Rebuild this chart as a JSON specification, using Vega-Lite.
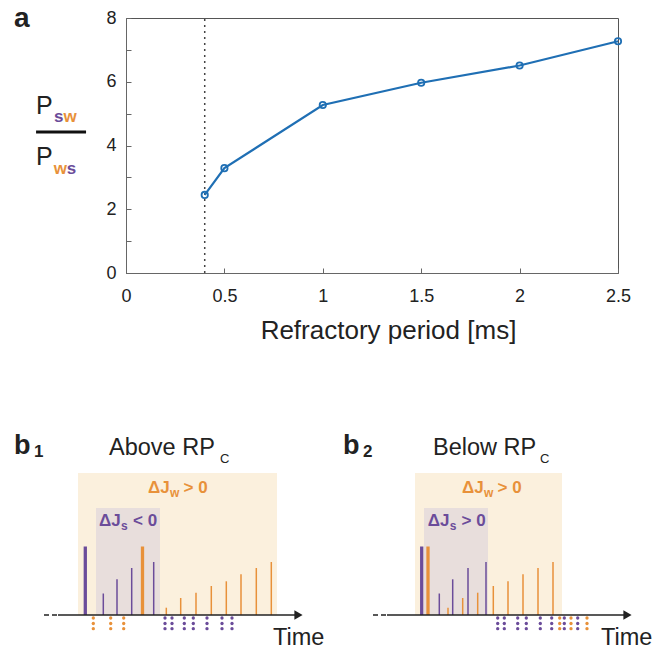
{
  "$schema": "https://vega.github.io/schema/vega-lite/v6.json",
  "padding": {"left": 13, "top": 4, "right": 0, "bottom": 0},
  "columns": 1,
  "bounds": "full",
  "spacing": 86,
  "config": {
    "view": {"stroke": null},
    "font": "Liberation Sans",
    "axis": {"labelFont": "Liberation Sans", "titleFont": "Liberation Sans"}
  },
  "datasets": {
    "curve": [
      {"rp": 0.4, "ratio": 2.45},
      {"rp": 0.5, "ratio": 3.29},
      {"rp": 1.0, "ratio": 5.27},
      {"rp": 1.5, "ratio": 5.97},
      {"rp": 2.0, "ratio": 6.51},
      {"rp": 2.5, "ratio": 7.27}
    ],
    "critical": [{"rp": 0.4, "ratio": 0, "ratio2": 8}],
    "panelA_text": [
      {"role": "tag", "label": "a", "rp": -0.569, "ratio": 7.72},
      {"role": "P", "label": "P", "rp": -0.457, "ratio": 4.99},
      {"role": "P", "label": "P", "rp": -0.457, "ratio": 3.39},
      {"role": "sub", "who": "s", "label": "s", "rp": -0.366, "ratio": 4.74},
      {"role": "sub", "who": "w", "label": "w", "rp": -0.318, "ratio": 4.74},
      {"role": "sub", "who": "w", "label": "w", "rp": -0.367, "ratio": 3.12},
      {"role": "sub", "who": "s", "label": "s", "rp": -0.301, "ratio": 3.12},
      {"role": "bar", "rp": -0.457, "rp2": -0.203, "ratio": 4.42}
    ],
    "schematic": [
      {"panel": "b1", "kind": "axis"},
      {"panel": "b1", "kind": "region", "who": "w", "t": 6.4, "t2": 26.3, "amp": 14.2, "amp2": 0},
      {"panel": "b1", "kind": "region", "who": "s", "t": 8.2, "t2": 14.6, "amp": 10.7, "amp2": 0},
      {"panel": "b1", "kind": "spike", "who": "s", "t": 7.13, "amp": 6.85},
      {"panel": "b1", "kind": "spike", "who": "w", "t": 12.85, "amp": 6.85},
      {"panel": "b1", "kind": "update", "who": "s", "t": 8.93, "amp": 2.15},
      {"panel": "b1", "kind": "update", "who": "s", "t": 10.3, "amp": 3.57},
      {"panel": "b1", "kind": "update", "who": "s", "t": 11.77, "amp": 4.7},
      {"panel": "b1", "kind": "update", "who": "s", "t": 13.97, "amp": 5.3},
      {"panel": "b1", "kind": "update", "who": "w", "t": 15.23, "amp": 0.73},
      {"panel": "b1", "kind": "update", "who": "w", "t": 16.67, "amp": 1.7},
      {"panel": "b1", "kind": "update", "who": "w", "t": 18.2, "amp": 2.23},
      {"panel": "b1", "kind": "update", "who": "w", "t": 19.73, "amp": 2.9},
      {"panel": "b1", "kind": "update", "who": "w", "t": 21.23, "amp": 3.37},
      {"panel": "b1", "kind": "update", "who": "w", "t": 22.7, "amp": 4.07},
      {"panel": "b1", "kind": "update", "who": "w", "t": 24.23, "amp": 4.7},
      {"panel": "b1", "kind": "update", "who": "w", "t": 25.73, "amp": 5.3},
      {"panel": "b1", "kind": "dot", "who": "w", "t": 7.93, "amp": -0.3},
      {"panel": "b1", "kind": "dot", "who": "w", "t": 7.93, "amp": -0.85},
      {"panel": "b1", "kind": "dot", "who": "w", "t": 7.93, "amp": -1.37},
      {"panel": "b1", "kind": "dot", "who": "w", "t": 9.67, "amp": -0.3},
      {"panel": "b1", "kind": "dot", "who": "w", "t": 9.67, "amp": -0.85},
      {"panel": "b1", "kind": "dot", "who": "w", "t": 9.67, "amp": -1.37},
      {"panel": "b1", "kind": "dot", "who": "w", "t": 10.97, "amp": -0.3},
      {"panel": "b1", "kind": "dot", "who": "w", "t": 10.97, "amp": -0.85},
      {"panel": "b1", "kind": "dot", "who": "w", "t": 10.97, "amp": -1.37},
      {"panel": "b1", "kind": "dot", "who": "s", "t": 15.1, "amp": -0.3},
      {"panel": "b1", "kind": "dot", "who": "s", "t": 15.1, "amp": -0.85},
      {"panel": "b1", "kind": "dot", "who": "s", "t": 15.1, "amp": -1.37},
      {"panel": "b1", "kind": "dot", "who": "s", "t": 15.8, "amp": -0.3},
      {"panel": "b1", "kind": "dot", "who": "s", "t": 15.8, "amp": -0.85},
      {"panel": "b1", "kind": "dot", "who": "s", "t": 15.8, "amp": -1.37},
      {"panel": "b1", "kind": "dot", "who": "s", "t": 17.03, "amp": -0.3},
      {"panel": "b1", "kind": "dot", "who": "s", "t": 17.03, "amp": -0.85},
      {"panel": "b1", "kind": "dot", "who": "s", "t": 17.03, "amp": -1.37},
      {"panel": "b1", "kind": "dot", "who": "s", "t": 17.93, "amp": -0.3},
      {"panel": "b1", "kind": "dot", "who": "s", "t": 17.93, "amp": -0.85},
      {"panel": "b1", "kind": "dot", "who": "s", "t": 17.93, "amp": -1.37},
      {"panel": "b1", "kind": "dot", "who": "s", "t": 19.3, "amp": -0.3},
      {"panel": "b1", "kind": "dot", "who": "s", "t": 19.3, "amp": -0.85},
      {"panel": "b1", "kind": "dot", "who": "s", "t": 19.3, "amp": -1.37},
      {"panel": "b1", "kind": "dot", "who": "s", "t": 20.8, "amp": -0.3},
      {"panel": "b1", "kind": "dot", "who": "s", "t": 20.8, "amp": -0.85},
      {"panel": "b1", "kind": "dot", "who": "s", "t": 20.8, "amp": -1.37},
      {"panel": "b1", "kind": "dot", "who": "s", "t": 21.8, "amp": -0.3},
      {"panel": "b1", "kind": "dot", "who": "s", "t": 21.8, "amp": -0.85},
      {"panel": "b1", "kind": "dot", "who": "s", "t": 21.8, "amp": -1.37},
      {"panel": "b1", "kind": "text", "role": "panel", "label": "b", "t": 0, "amp": 16.1},
      {"panel": "b1", "kind": "text", "role": "panelsub", "label": "1", "t": 2.0, "amp": 15.8},
      {"panel": "b1", "kind": "text", "role": "heading", "label": "Above RP", "t": 9.5, "amp": 16.0},
      {"panel": "b1", "kind": "text", "role": "headingsub", "label": "C", "t": 20.6, "amp": 15.2},
      {"panel": "b1", "kind": "text", "role": "heading", "label": "Time", "t": 25.9, "amp": -3.0},
      {"panel": "b1", "kind": "text", "role": "delta", "who": "w", "label": "ΔJ", "t": 13.4, "amp": 12.2},
      {"panel": "b1", "kind": "text", "role": "deltasub", "who": "w", "label": "w", "t": 15.6, "amp": 11.8},
      {"panel": "b1", "kind": "text", "role": "delta", "who": "w", "label": "> 0", "t": 16.95, "amp": 12.2},
      {"panel": "b1", "kind": "text", "role": "delta", "who": "s", "label": "ΔJ", "t": 8.5, "amp": 8.9},
      {"panel": "b1", "kind": "text", "role": "deltasub", "who": "s", "label": "s", "t": 10.7, "amp": 8.5},
      {"panel": "b1", "kind": "text", "role": "delta", "who": "s", "label": "< 0", "t": 11.9, "amp": 8.9},

      {"panel": "b2", "kind": "axis"},
      {"panel": "b2", "kind": "region", "who": "w", "t": 7.2, "t2": 21.9, "amp": 14.2, "amp2": 0},
      {"panel": "b2", "kind": "region", "who": "s", "t": 8.1, "t2": 14.5, "amp": 10.7, "amp2": 0},
      {"panel": "b2", "kind": "spike", "who": "s", "t": 7.87, "amp": 6.85},
      {"panel": "b2", "kind": "spike", "who": "w", "t": 8.5, "amp": 6.85},
      {"panel": "b2", "kind": "update", "who": "s", "t": 9.63, "amp": 2.15},
      {"panel": "b2", "kind": "update", "who": "s", "t": 10.97, "amp": 3.57},
      {"panel": "b2", "kind": "update", "who": "s", "t": 12.5, "amp": 4.7},
      {"panel": "b2", "kind": "update", "who": "s", "t": 14.3, "amp": 5.3},
      {"panel": "b2", "kind": "update", "who": "w", "t": 10.5, "amp": 0.73},
      {"panel": "b2", "kind": "update", "who": "w", "t": 11.97, "amp": 1.7},
      {"panel": "b2", "kind": "update", "who": "w", "t": 13.47, "amp": 2.23},
      {"panel": "b2", "kind": "update", "who": "w", "t": 15.03, "amp": 2.9},
      {"panel": "b2", "kind": "update", "who": "w", "t": 16.5, "amp": 3.37},
      {"panel": "b2", "kind": "update", "who": "w", "t": 18.0, "amp": 4.07},
      {"panel": "b2", "kind": "update", "who": "w", "t": 19.5, "amp": 4.7},
      {"panel": "b2", "kind": "update", "who": "w", "t": 21.0, "amp": 5.3},
      {"panel": "b2", "kind": "dot", "who": "s", "t": 15.47, "amp": -0.3},
      {"panel": "b2", "kind": "dot", "who": "s", "t": 15.47, "amp": -0.85},
      {"panel": "b2", "kind": "dot", "who": "s", "t": 15.47, "amp": -1.37},
      {"panel": "b2", "kind": "dot", "who": "s", "t": 16.13, "amp": -0.3},
      {"panel": "b2", "kind": "dot", "who": "s", "t": 16.13, "amp": -0.85},
      {"panel": "b2", "kind": "dot", "who": "s", "t": 16.13, "amp": -1.37},
      {"panel": "b2", "kind": "dot", "who": "s", "t": 17.47, "amp": -0.3},
      {"panel": "b2", "kind": "dot", "who": "s", "t": 17.47, "amp": -0.85},
      {"panel": "b2", "kind": "dot", "who": "s", "t": 17.47, "amp": -1.37},
      {"panel": "b2", "kind": "dot", "who": "s", "t": 18.33, "amp": -0.3},
      {"panel": "b2", "kind": "dot", "who": "s", "t": 18.33, "amp": -0.85},
      {"panel": "b2", "kind": "dot", "who": "s", "t": 18.33, "amp": -1.37},
      {"panel": "b2", "kind": "dot", "who": "s", "t": 19.73, "amp": -0.3},
      {"panel": "b2", "kind": "dot", "who": "s", "t": 19.73, "amp": -0.85},
      {"panel": "b2", "kind": "dot", "who": "s", "t": 19.73, "amp": -1.37},
      {"panel": "b2", "kind": "dot", "who": "s", "t": 20.87, "amp": -0.3},
      {"panel": "b2", "kind": "dot", "who": "s", "t": 20.87, "amp": -0.85},
      {"panel": "b2", "kind": "dot", "who": "s", "t": 20.87, "amp": -1.37},
      {"panel": "b2", "kind": "dot", "who": "w", "t": 21.67, "amp": -0.3},
      {"panel": "b2", "kind": "dot", "who": "w", "t": 21.67, "amp": -0.85},
      {"panel": "b2", "kind": "dot", "who": "w", "t": 21.67, "amp": -1.37},
      {"panel": "b2", "kind": "dot", "who": "s", "t": 22.13, "amp": -0.3},
      {"panel": "b2", "kind": "dot", "who": "s", "t": 22.13, "amp": -0.85},
      {"panel": "b2", "kind": "dot", "who": "s", "t": 22.13, "amp": -1.37},
      {"panel": "b2", "kind": "dot", "who": "w", "t": 22.8, "amp": -0.3},
      {"panel": "b2", "kind": "dot", "who": "w", "t": 22.8, "amp": -0.85},
      {"panel": "b2", "kind": "dot", "who": "w", "t": 22.8, "amp": -1.37},
      {"panel": "b2", "kind": "dot", "who": "s", "t": 23.47, "amp": -0.3},
      {"panel": "b2", "kind": "dot", "who": "s", "t": 23.47, "amp": -0.85},
      {"panel": "b2", "kind": "dot", "who": "s", "t": 23.47, "amp": -1.37},
      {"panel": "b2", "kind": "dot", "who": "w", "t": 24.4, "amp": -0.3},
      {"panel": "b2", "kind": "dot", "who": "w", "t": 24.4, "amp": -0.85},
      {"panel": "b2", "kind": "dot", "who": "w", "t": 24.4, "amp": -1.37},
      {"panel": "b2", "kind": "text", "role": "panel", "label": "b", "t": 0, "amp": 16.1},
      {"panel": "b2", "kind": "text", "role": "panelsub", "label": "2", "t": 2.0, "amp": 15.8},
      {"panel": "b2", "kind": "text", "role": "heading", "label": "Below RP", "t": 9.0, "amp": 16.0},
      {"panel": "b2", "kind": "text", "role": "headingsub", "label": "C", "t": 19.7, "amp": 15.2},
      {"panel": "b2", "kind": "text", "role": "heading", "label": "Time", "t": 25.8, "amp": -3.0},
      {"panel": "b2", "kind": "text", "role": "delta", "who": "w", "label": "ΔJ", "t": 11.9, "amp": 12.2},
      {"panel": "b2", "kind": "text", "role": "deltasub", "who": "w", "label": "w", "t": 14.1, "amp": 11.8},
      {"panel": "b2", "kind": "text", "role": "delta", "who": "w", "label": "> 0", "t": 15.45, "amp": 12.2},
      {"panel": "b2", "kind": "text", "role": "delta", "who": "s", "label": "ΔJ", "t": 8.47, "amp": 8.9},
      {"panel": "b2", "kind": "text", "role": "deltasub", "who": "s", "label": "s", "t": 10.67, "amp": 8.5},
      {"panel": "b2", "kind": "text", "role": "delta", "who": "s", "label": "> 0", "t": 11.85, "amp": 8.9}
    ]
  },
  "concat": [
    {
      "width": 492,
      "height": 255,
      "view": {"stroke": "#555", "strokeWidth": 1},
      "data": {"name": "curve"},
      "encoding": {
        "x": {
          "field": "rp", "type": "quantitative",
          "scale": {"domain": [0, 2.5], "nice": false, "zero": false},
          "axis": {
            "values": [0, 0.5, 1, 1.5, 2, 2.5], "format": "~g", "grid": false,
            "title": "Refractory period [ms]", "titleFontSize": 26, "titleFontWeight": "normal", "titleColor": "#222",
            "titleX": 262, "titleY": 65, "titleBaseline": "alphabetic", "titleAlign": "center",
            "tickSize": -5, "tickColor": "#666", "domainColor": "#666",
            "labelPadding": 19, "labelFlush": false, "labelFontSize": 18, "labelColor": "#222", "labelOverlap": false
          }
        },
        "y": {
          "field": "ratio", "type": "quantitative",
          "scale": {"domain": [0, 8], "nice": false, "zero": false},
          "axis": {
            "values": [0, 1, 2, 3, 4, 5, 6, 7, 8], "format": "d", "grid": false, "title": null,
            "labelExpr": "datum.value % 2 === 0 ? datum.label : ''",
            "tickSize": -5, "tickColor": "#666", "domainColor": "#666",
            "labelPadding": 15, "labelFlush": false, "labelFontSize": 18, "labelColor": "#222", "labelOverlap": false
          }
        }
      },
      "layer": [
        {
          "data": {"name": "critical"},
          "mark": {"type": "rule", "color": "#444", "strokeWidth": 1.5, "strokeDash": [2, 4]},
          "encoding": {"y2": {"field": "ratio2"}}
        },
        {
          "mark": {"type": "line", "color": "#1f6fb4", "strokeWidth": 2.2},
          "encoding": {}
        },
        {
          "mark": {"type": "point", "filled": false, "color": "#1f6fb4", "size": 40, "strokeWidth": 1.8, "opacity": 1},
          "encoding": {}
        },
        {
          "data": {"name": "panelA_text"},
          "transform": [{"filter": "datum.role === 'tag'"}],
          "mark": {"type": "text", "align": "left", "baseline": "alphabetic", "fontSize": 28, "fontWeight": "bold", "color": "#222"},
          "encoding": {"text": {"field": "label"}}
        },
        {
          "data": {"name": "panelA_text"},
          "transform": [{"filter": "datum.role === 'P'"}],
          "mark": {"type": "text", "align": "left", "baseline": "alphabetic", "fontSize": 25, "color": "#222"},
          "encoding": {"text": {"field": "label"}}
        },
        {
          "data": {"name": "panelA_text"},
          "transform": [{"filter": "datum.role === 'sub'"}],
          "mark": {"type": "text", "align": "left", "baseline": "alphabetic", "fontSize": 17, "fontWeight": "bold"},
          "encoding": {
            "text": {"field": "label"},
            "color": {"field": "who", "type": "nominal", "scale": {"domain": ["s", "w"], "range": ["#6B4C9A", "#E8913A"]}, "legend": null}
          }
        },
        {
          "data": {"name": "panelA_text"},
          "transform": [{"filter": "datum.role === 'bar'"}],
          "mark": {"type": "rule", "color": "#111", "strokeWidth": 3},
          "encoding": {"x2": {"field": "rp2"}}
        }
      ]
    },
    {
      "data": {"name": "schematic"},
      "facet": {"column": {"field": "panel", "type": "nominal", "header": {"labels": false, "title": null}}},
      "spacing": 17,
      "spec": {
        "width": 200,
        "height": 217,
        "layer": [
          {
            "transform": [{"filter": "datum.kind === 'region'"}],
            "mark": {"type": "rect"},
            "encoding": {
              "x": {"field": "t", "type": "quantitative", "scale": {"domain": [11.2, 31.2], "nice": false, "zero": false}, "axis": null},
              "x2": {"field": "t2"},
              "y": {"field": "amp", "type": "quantitative", "scale": {"domain": [-3.2, 18.5], "nice": false, "zero": false}, "axis": null},
              "y2": {"field": "amp2"},
              "fill": {"field": "who", "type": "nominal", "scale": {"domain": ["w", "s"], "range": ["#FBF0DD", "#E8DEDC"]}, "legend": null}
            }
          },
          {
            "transform": [{"filter": "datum.kind === 'update'"}],
            "mark": {"type": "rule", "strokeWidth": 1.5},
            "encoding": {
              "x": {"field": "t", "type": "quantitative", "scale": {"domain": [11.2, 31.2], "nice": false, "zero": false}, "axis": null},
              "y": {"field": "amp", "type": "quantitative", "scale": {"domain": [-3.2, 18.5], "nice": false, "zero": false}, "axis": null},
              "y2": {"datum": 0},
              "color": {"field": "who", "type": "nominal", "scale": {"domain": ["s", "w"], "range": ["#6B4C9A", "#E8913A"]}, "legend": null}
            }
          },
          {
            "transform": [{"filter": "datum.kind === 'spike'"}],
            "mark": {"type": "rule", "strokeWidth": 3.3},
            "encoding": {
              "x": {"field": "t", "type": "quantitative", "scale": {"domain": [11.2, 31.2], "nice": false, "zero": false}, "axis": null},
              "y": {"field": "amp", "type": "quantitative", "scale": {"domain": [-3.2, 18.5], "nice": false, "zero": false}, "axis": null},
              "y2": {"datum": 0},
              "color": {"field": "who", "type": "nominal", "scale": {"domain": ["s", "w"], "range": ["#6B4C9A", "#E8913A"]}, "legend": null}
            }
          },
          {
            "transform": [{"filter": "datum.kind === 'dot'"}],
            "mark": {"type": "point", "filled": true, "size": 11, "opacity": 1, "strokeWidth": 0},
            "encoding": {
              "x": {"field": "t", "type": "quantitative", "scale": {"domain": [11.2, 31.2], "nice": false, "zero": false}, "axis": null},
              "y": {"field": "amp", "type": "quantitative", "scale": {"domain": [-3.2, 18.5], "nice": false, "zero": false}, "axis": null},
              "color": {"field": "who", "type": "nominal", "scale": {"domain": ["s", "w"], "range": ["#6B4C9A", "#E8913A"]}, "legend": null}
            }
          },
          {
            "transform": [{"filter": "datum.kind === 'axis'"}],
            "mark": {"type": "rule", "color": "#222", "strokeWidth": 1.5, "strokeDash": [5, 3]},
            "encoding": {
              "x": {"datum": 3.0, "type": "quantitative", "scale": {"domain": [11.2, 31.2], "nice": false, "zero": false}, "axis": null},
              "x2": {"datum": 4.4},
              "y": {"datum": 0, "type": "quantitative", "scale": {"domain": [-3.2, 18.5], "nice": false, "zero": false}, "axis": null}
            }
          },
          {
            "transform": [{"filter": "datum.kind === 'axis'"}],
            "mark": {"type": "rule", "color": "#222", "strokeWidth": 1.5},
            "encoding": {
              "x": {"datum": 4.4, "type": "quantitative", "scale": {"domain": [11.2, 31.2], "nice": false, "zero": false}, "axis": null},
              "x2": {"datum": 28.1},
              "y": {"datum": 0, "type": "quantitative", "scale": {"domain": [-3.2, 18.5], "nice": false, "zero": false}, "axis": null}
            }
          },
          {
            "transform": [{"filter": "datum.kind === 'axis'"}],
            "mark": {"type": "point", "shape": "triangle-right", "filled": true, "size": 90, "color": "#222", "opacity": 1},
            "encoding": {
              "x": {"datum": 28.45, "type": "quantitative", "scale": {"domain": [11.2, 31.2], "nice": false, "zero": false}, "axis": null},
              "y": {"datum": 0, "type": "quantitative", "scale": {"domain": [-3.2, 18.5], "nice": false, "zero": false}, "axis": null}
            }
          },
          {
            "transform": [{"filter": "datum.kind === 'text' && datum.role === 'panel'"}],
            "mark": {"type": "text", "align": "left", "baseline": "alphabetic", "fontSize": 27, "fontWeight": "bold", "color": "#222"},
            "encoding": {
              "x": {"field": "t", "type": "quantitative", "scale": {"domain": [11.2, 31.2], "nice": false, "zero": false}, "axis": null},
              "y": {"field": "amp", "type": "quantitative", "scale": {"domain": [-3.2, 18.5], "nice": false, "zero": false}, "axis": null},
              "text": {"field": "label"}
            }
          },
          {
            "transform": [{"filter": "datum.kind === 'text' && datum.role === 'panelsub'"}],
            "mark": {"type": "text", "align": "left", "baseline": "alphabetic", "fontSize": 17, "fontWeight": "bold", "color": "#222"},
            "encoding": {
              "x": {"field": "t", "type": "quantitative", "scale": {"domain": [11.2, 31.2], "nice": false, "zero": false}, "axis": null},
              "y": {"field": "amp", "type": "quantitative", "scale": {"domain": [-3.2, 18.5], "nice": false, "zero": false}, "axis": null},
              "text": {"field": "label"}
            }
          },
          {
            "transform": [{"filter": "datum.kind === 'text' && datum.role === 'heading'"}],
            "mark": {"type": "text", "align": "left", "baseline": "alphabetic", "fontSize": 23.5, "color": "#222"},
            "encoding": {
              "x": {"field": "t", "type": "quantitative", "scale": {"domain": [11.2, 31.2], "nice": false, "zero": false}, "axis": null},
              "y": {"field": "amp", "type": "quantitative", "scale": {"domain": [-3.2, 18.5], "nice": false, "zero": false}, "axis": null},
              "text": {"field": "label"}
            }
          },
          {
            "transform": [{"filter": "datum.kind === 'text' && datum.role === 'headingsub'"}],
            "mark": {"type": "text", "align": "left", "baseline": "alphabetic", "fontSize": 13, "color": "#222"},
            "encoding": {
              "x": {"field": "t", "type": "quantitative", "scale": {"domain": [11.2, 31.2], "nice": false, "zero": false}, "axis": null},
              "y": {"field": "amp", "type": "quantitative", "scale": {"domain": [-3.2, 18.5], "nice": false, "zero": false}, "axis": null},
              "text": {"field": "label"}
            }
          },
          {
            "transform": [{"filter": "datum.kind === 'text' && datum.role === 'delta'"}],
            "mark": {"type": "text", "align": "left", "baseline": "alphabetic", "fontSize": 17, "fontWeight": "bold"},
            "encoding": {
              "x": {"field": "t", "type": "quantitative", "scale": {"domain": [11.2, 31.2], "nice": false, "zero": false}, "axis": null},
              "y": {"field": "amp", "type": "quantitative", "scale": {"domain": [-3.2, 18.5], "nice": false, "zero": false}, "axis": null},
              "text": {"field": "label"},
              "color": {"field": "who", "type": "nominal", "scale": {"domain": ["s", "w"], "range": ["#6B4C9A", "#E8913A"]}, "legend": null}
            }
          },
          {
            "transform": [{"filter": "datum.kind === 'text' && datum.role === 'deltasub'"}],
            "mark": {"type": "text", "align": "left", "baseline": "alphabetic", "fontSize": 12, "fontWeight": "bold"},
            "encoding": {
              "x": {"field": "t", "type": "quantitative", "scale": {"domain": [11.2, 31.2], "nice": false, "zero": false}, "axis": null},
              "y": {"field": "amp", "type": "quantitative", "scale": {"domain": [-3.2, 18.5], "nice": false, "zero": false}, "axis": null},
              "text": {"field": "label"},
              "color": {"field": "who", "type": "nominal", "scale": {"domain": ["s", "w"], "range": ["#6B4C9A", "#E8913A"]}, "legend": null}
            }
          }
        ]
      }
    }
  ]
}
